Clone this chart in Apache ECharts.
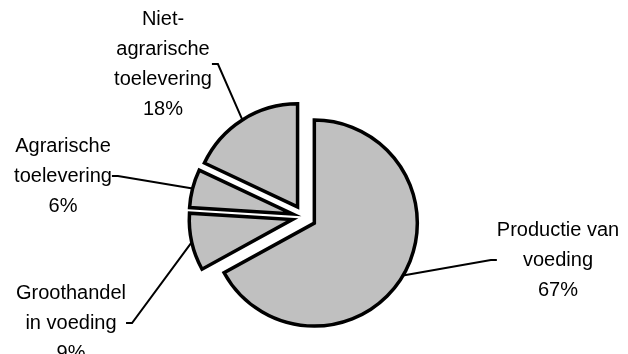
<!DOCTYPE html>
<html>
<head>
<meta charset="utf-8">
<script src="https://cdn.jsdelivr.net/npm/echarts@6/dist/echarts.min.js"></script>
<style>
html,body{margin:0;padding:0;background:#fff;}
#chart{width:628px;height:354px;}
</style>
</head>
<body>
<div id="chart"></div>
<script>
// Data
const categories = ['Productie van\nvoeding', 'Groothandel\nin voeding', 'Agrarische\ntoelevering', 'Niet-\nagrarische\ntoelevering'];
const values = [67, 9, 6, 18];

// Layout only
const labelCenters = [[558, 260], [71, 323], [63, 176], [163, 64]];
const pieCenter = [304, 217];
const explode = 12;
const startAngle = 90;

const total = values.reduce((a, b) => a + b, 0);
let cum = 0;
const mids = values.map(v => { const m = startAngle - 360 * (cum + v / 2) / total; cum += v; return m; });

const sliceStyle = {color: '#c0c0c0', borderColor: '#000', borderWidth: 3.5, borderJoin: 'miter'};
const hiddenStyle = {color: 'rgba(0,0,0,0)', borderWidth: 0};
const labelStyle = {
  show: true,
  position: 'outside',
  color: '#000',
  fontFamily: 'Liberation Sans, Arial, sans-serif',
  fontSize: 20,
  lineHeight: 30,
  align: 'center',
  formatter: p => p.name + '\n' + p.value + '%'
};

const series = values.map((_, k) => {
  const a = mids[k] * Math.PI / 180;
  return {
    type: 'pie',
    silent: true,
    center: [pieCenter[0] + explode * Math.cos(a), pieCenter[1] - explode * Math.sin(a)],
    radius: [0, 103],
    startAngle: startAngle,
    clockwise: true,
    avoidLabelOverlap: false,
    emphasis: {disabled: true},
    labelLine: {show: true, length: 10, length2: 6, lineStyle: {color: '#000', width: 2}},
    labelLayout: function (params) {
      const c = labelCenters[params.dataIndex];
      return {x: c[0], y: c[1], align: 'center', verticalAlign: 'middle'};
    },
    data: categories.map((n, i) => ({
      name: n,
      value: values[i],
      itemStyle: i === k ? sliceStyle : hiddenStyle,
      label: i === k ? labelStyle : {show: false},
      labelLine: {show: i === k}
    }))
  };
});

const chart = echarts.init(document.getElementById('chart'), null, {renderer: 'canvas'});
chart.setOption({animation: false, backgroundColor: '#fff', series: series});
</script>
</body>
</html>
